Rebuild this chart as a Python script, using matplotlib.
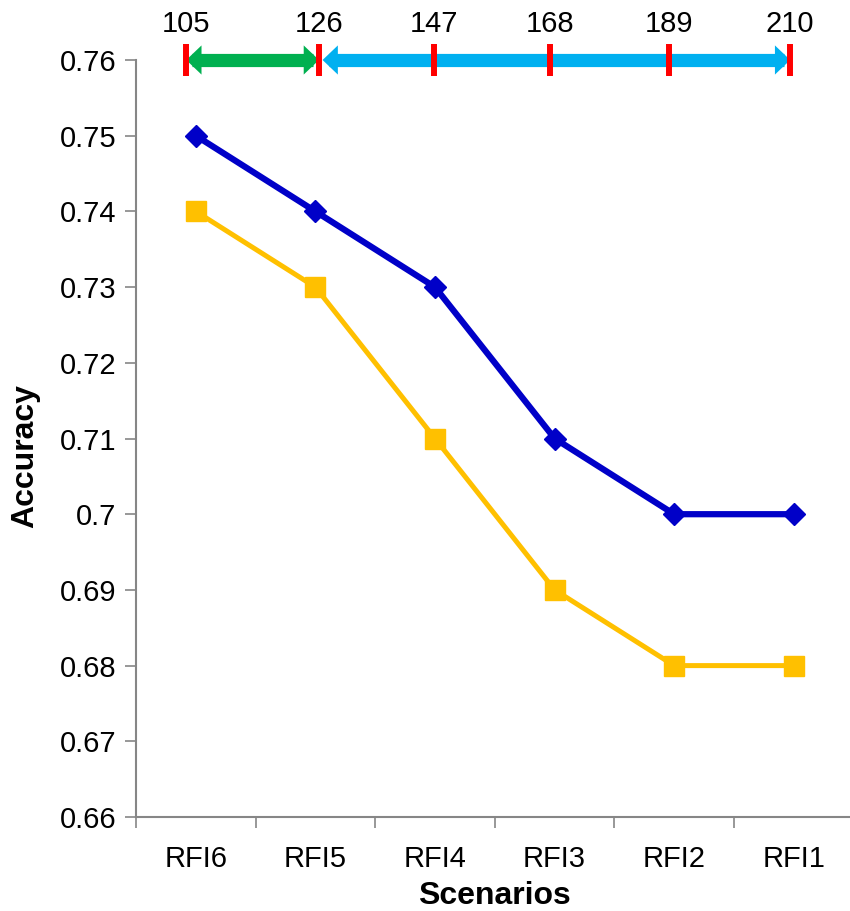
import matplotlib
matplotlib.use("Agg")
import matplotlib.pyplot as plt
from matplotlib.patches import FancyArrowPatch

scenarios = ["RFI6", "RFI5", "RFI4", "RFI3", "RFI2", "RFI1"]
acc_blue = [0.75, 0.74, 0.73, 0.71, 0.70, 0.70]
acc_yellow = [0.74, 0.73, 0.71, 0.69, 0.68, 0.68]
feature_counts = [105, 126, 147, 168, 189, 210]
# where the red marks sit along the category axis
count_pos = [-0.08, 1.03, 1.99, 2.96, 3.96, 4.97]
y_ticks = [0.66, 0.67, 0.68, 0.69, 0.70, 0.71, 0.72, 0.73, 0.74, 0.75, 0.76]

plt.rcParams["font.family"] = ["Liberation Sans", "DejaVu Sans"]

fig = plt.figure(figsize=(8.5, 9.11), dpi=100)
W, H = 850, 911
left, right, top, bottom = 136, 853.6, 60, 817
ax = fig.add_axes([left / W, 1 - bottom / H, (right - left) / W, (bottom - top) / H])

x = list(range(len(scenarios)))
ax.plot(x, acc_blue, color="#0000C8", lw=4.5, marker="D", ms=11.5, zorder=3)
ax.plot(x, acc_yellow, color="#FFC000", lw=3.6, marker="s", ms=14.5, zorder=3)

ax.set_xlim(-0.5, 5.5)
ax.set_ylim(0.66, 0.76)
ax.set_yticks(y_ticks)
ax.set_yticklabels([f"{v:g}" for v in y_ticks])
ax.set_xticks(x)
ax.set_xticklabels(scenarios)
ax.set_xticks([i - 0.5 for i in range(len(scenarios) + 1)], minor=True)
ax.tick_params(axis="x", which="major", length=0, labelsize=21, pad=20)
ax.tick_params(axis="x", which="minor", length=8, color="#868686", width=1.2)
ax.tick_params(axis="y", length=8, color="#868686", width=1.2, labelsize=21, pad=6)

for side in ["top", "right"]:
    ax.spines[side].set_visible(False)
for side in ["left", "bottom"]:
    ax.spines[side].set_color("#868686")
    ax.spines[side].set_linewidth(1.5)

ax.set_xlabel("Scenarios", fontsize=23, fontweight="bold", labelpad=6)
ax.set_ylabel("Accuracy", fontsize=23, fontweight="bold", va="center")
ax.yaxis.set_label_coords(-0.155, 0.477)


def double_arrow(x0, x1, color):
    # thick shaft as a plain line, filled heads from a zero-width arrow patch
    span = x1 - x0
    ax.plot([x0 + 0.05 * min(span, 1), x1 - 0.05 * min(span, 1)], [0.76, 0.76],
            color=color, lw=9.5, solid_capstyle="butt", clip_on=False, zorder=4)
    p = FancyArrowPatch((x0, 0.76), (x1, 0.76),
                        arrowstyle="<|-|>,head_length=11,head_width=10.5",
                        mutation_scale=1, color=color, lw=0,
                        shrinkA=0, shrinkB=0, clip_on=False, zorder=4)
    ax.add_patch(p)


double_arrow(count_pos[0], count_pos[1], "#00B050")
double_arrow(count_pos[1] + 0.03, count_pos[5], "#00B0F0")

ax.plot(count_pos, [0.76] * len(count_pos), ls="none", marker="|",
        ms=23, mew=4.3, color="#FF0000", clip_on=False, zorder=5)
for xp, n in zip(count_pos, feature_counts):
    ax.annotate(str(n), (xp, 0.76), xytext=(0, 26), textcoords="offset points",
                ha="center", va="center", fontsize=21, annotation_clip=False)

fig.savefig("out.png", dpi=100)
